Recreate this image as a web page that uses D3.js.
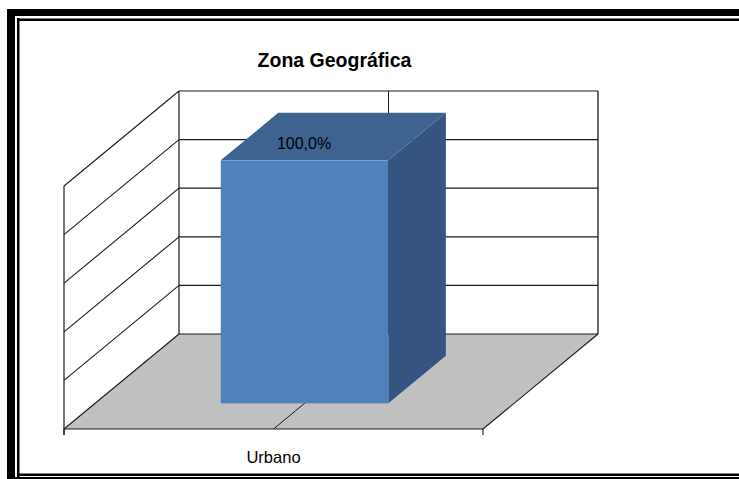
<!DOCTYPE html>
<html>
<head>
<meta charset="utf-8">
<script src="https://cdn.jsdelivr.net/npm/d3@7"></script>
<style>
  html, body { margin: 0; padding: 0; background: #fff; }
  svg { display: block; }
  text { font-family: "Liberation Sans", Arial, sans-serif; }
</style>
</head>
<body>
<svg id="chart" width="739" height="479"></svg>
<script>
// ---- data ----
const title = "Zona Geográfica";
const categories = ["Urbano"];
const values = [1.0];
const valueLabels = ["100,0%"];
const valueTicks = [0, 0.2, 0.4, 0.6, 0.8, 1.0];

// ---- layout ----
const W = 739, H = 479;
const svg = d3.select("#chart");

const frontLeft = 64, frontRight = 483;
const yFront = d3.scaleLinear().domain([0, 1]).range([429, 186]);
const x = d3.scaleBand().domain(categories).range([frontLeft, frontRight]).padding(0);
const DX = 115, DY = -95;           // full depth offset
const barDepthFront = 0.27, barDepthBack = 0.77;
const barWidthFrac = 0.4;

const P = (px, py, d) => [px + DX * d, py + DY * d];
const line = d3.line();

// ---- outer frame ----
const frame = svg.append("g");
frame.append("rect").attr("x", 7).attr("y", 9).attr("width", 8).attr("height", H).attr("fill", "#000");
frame.append("rect").attr("x", 7).attr("y", 9).attr("width", W).attr("height", 7).attr("fill", "#000");
frame.append("rect").attr("x", 17).attr("y", 18).attr("width", 2.5).attr("height", H).attr("fill", "#000");
frame.append("rect").attr("x", 17).attr("y", 18.5).attr("width", W).attr("height", 2.5).attr("fill", "#000");
frame.append("rect").attr("x", 17).attr("y", 473.5).attr("width", W).attr("height", 2.5).attr("fill", "#000");
frame.append("rect").attr("x", 7).attr("y", 477).attr("width", W).attr("height", 3).attr("fill", "#000");

// ---- title ----
svg.append("text")
  .attr("x", 334.5).attr("y", 66.5)
  .attr("text-anchor", "middle")
  .attr("font-size", 19.5).attr("font-weight", "bold")
  .attr("fill", "#000")
  .text(title);

const g = svg.append("g");
const stroke = "#1a1a1a";

// ---- floor ----
const f0 = [frontLeft, yFront(0)], f1 = [frontRight, yFront(0)];
g.append("path")
  .attr("d", line([f0, f1, P(frontRight, yFront(0), 1), P(frontLeft, yFront(0), 1)]) + "Z")
  .attr("fill", "#c0c0c0").attr("stroke", "none");

// ---- back wall ----
g.append("path")
  .attr("d", line([P(frontLeft, yFront(1), 1), P(frontRight, yFront(1), 1), P(frontRight, yFront(0), 1), P(frontLeft, yFront(0), 1)]) + "Z")
  .attr("fill", "#fff").attr("stroke", "none");

// back wall gridlines
g.selectAll(".bgrid").data(valueTicks).join("path")
  .attr("d", t => line([P(frontLeft, yFront(t), 1), P(frontRight, yFront(t), 1)]))
  .attr("stroke", stroke).attr("stroke-width", 1.2).attr("fill", "none");
// back wall right & left edge
g.append("path").attr("d", line([P(frontRight, yFront(1), 1), P(frontRight, yFront(0), 1)]))
  .attr("stroke", stroke).attr("stroke-width", 1.3).attr("fill", "none");
g.append("path").attr("d", line([P(frontLeft, yFront(1), 1), P(frontLeft, yFront(0), 1)]))
  .attr("stroke", stroke).attr("stroke-width", 1.2).attr("fill", "none");

// category gridline on back wall & floor (at band center)
categories.forEach(c => {
  const cx = x(c) + x.bandwidth() / 2;
  g.append("path").attr("d", line([P(cx, yFront(1), 1), P(cx, yFront(0), 1)]))
    .attr("stroke", stroke).attr("stroke-width", 1).attr("fill", "none");
  g.append("path").attr("d", line([[cx, yFront(0)], P(cx, yFront(0), 1)]))
    .attr("stroke", stroke).attr("stroke-width", 1).attr("fill", "none");
});

// ---- left wall ----
g.selectAll(".lgrid").data(valueTicks).join("path")
  .attr("d", t => line([[frontLeft, yFront(t)], P(frontLeft, yFront(t), 1)]))
  .attr("stroke", stroke).attr("stroke-width", 1.1).attr("fill", "none");
g.append("path").attr("d", line([[frontLeft, yFront(1)], [frontLeft, yFront(0) + 6]]))
  .attr("stroke", stroke).attr("stroke-width", 1.2).attr("fill", "none");

// floor right edge
g.append("path").attr("d", line([[frontRight, yFront(0)], P(frontRight, yFront(0), 1)]))
  .attr("stroke", stroke).attr("stroke-width", 1.1).attr("fill", "none");

// ---- bars ----
categories.forEach((c, i) => {
  const cx = x(c) + x.bandwidth() / 2;
  const bw = x.bandwidth() * barWidthFrac;
  const xl = cx - bw / 2, xr = cx + bw / 2;
  const yb = yFront(0), yt = yFront(values[i]);
  const d0 = barDepthFront, d1 = barDepthBack;
  // side
  g.append("path")
    .attr("d", line([P(xr, yt, d0), P(xr, yt, d1), P(xr, yb, d1), P(xr, yb, d0)]) + "Z")
    .attr("fill", "#355481");
  // top
  g.append("path")
    .attr("d", line([P(xl, yt, d0), P(xr, yt, d0), P(xr, yt, d1), P(xl, yt, d1)]) + "Z")
    .attr("fill", "#3e6391");
  // front
  const fl = P(xl, yt, d0), fr = P(xr, yb, d0);
  g.append("rect")
    .attr("x", fl[0]).attr("y", fl[1])
    .attr("width", fr[0] - fl[0]).attr("height", fr[1] - fl[1])
    .attr("fill", "#4f81bd");
  // label
  const lp = P(cx, yt, d0);
  g.append("text")
    .attr("x", lp[0] - 0.5).attr("y", lp[1] - 11.5)
    .attr("text-anchor", "middle")
    .attr("font-size", 16).attr("fill", "#000")
    .text(valueLabels[i]);
});

// ---- category axis (front floor edge) ----
const axis = d3.axisBottom(x).tickSize(0).tickPadding(0);
const ax = svg.append("g").attr("transform", `translate(0,${yFront(0)})`).call(axis);
ax.select(".domain").attr("stroke", stroke).attr("stroke-width", 1.2).attr("d", `M${frontLeft},0H${frontRight}`);
ax.selectAll(".tick text")
  .attr("y", 34).attr("dy", 0)
  .attr("font-size", 16.5).attr("fill", "#000")
  .attr("font-family", "Liberation Sans, Arial, sans-serif");
// boundary tick marks
ax.selectAll(".bt").data([frontLeft, frontRight]).join("line")
  .attr("x1", d => d).attr("x2", d => d).attr("y1", 0).attr("y2", 6)
  .attr("stroke", stroke).attr("stroke-width", 1.1);
</script>
</body>
</html>
